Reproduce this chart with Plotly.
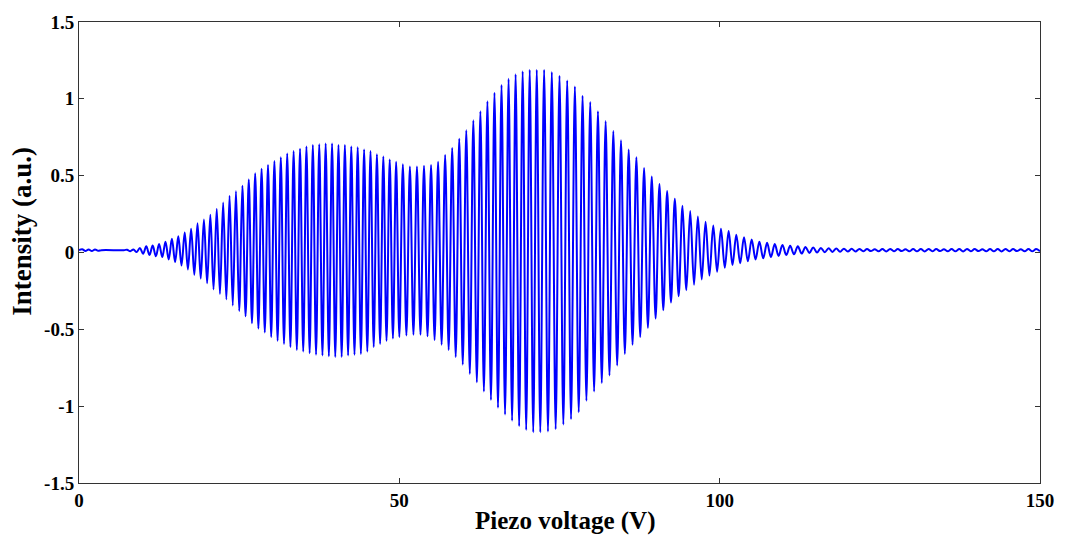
import plotly.graph_objects as go

# Flat lead-in before the fringes appear (V, a.u.)
lead_v = [0.0, 0.5, 1.0, 1.5, 2.0, 2.5, 3.0, 3.5, 7.0]
lead_i = [0.015, 0.021, 0.010, 0.020, 0.010, 0.020, 0.011, 0.015, 0.015]

# Fringe maxima: piezo voltage (V) and intensity (a.u.)
crest_v = [
    7.5, 8.5, 9.5, 10.5, 11.5, 12.5, 13.5, 14.5, 15.5, 16.5, 17.5, 18.5, 19.5, 20.5,
    21.5, 22.5, 23.5, 24.5, 25.5, 26.5, 27.5, 28.5, 29.5, 30.5, 31.5, 32.5, 33.5, 34.5,
    35.5, 36.5, 37.5, 38.5, 39.5, 40.5, 41.5, 42.5, 43.5, 44.5, 45.5, 46.5, 47.5, 48.5,
    49.5,
    50.55, 51.65, 52.75, 53.85, 54.95, 56.05, 57.15, 58.25, 59.35, 60.45, 61.55, 62.65,
    63.75, 64.85, 65.95, 67.05, 68.15, 69.25, 70.35, 71.45,
    72.6, 73.8, 75.0, 76.2, 77.4, 78.6, 79.8, 81.0, 82.2, 83.4, 84.6, 85.8, 87.0, 88.2,
    89.4, 90.6, 91.8, 93.0, 94.2, 95.4, 96.6, 97.8, 99.0, 100.2, 101.4, 102.6, 103.8,
    105.0, 106.2, 107.4, 108.6, 109.8, 111.0, 112.2, 113.4, 114.6, 115.8, 117.0, 118.2,
    119.4, 120.6, 121.8, 123.0, 124.2, 125.4, 126.6, 127.8, 129.0, 130.2, 131.4, 132.6,
    133.8, 135.0, 136.2, 137.4, 138.6, 139.8, 141.0, 142.2, 143.4, 144.6, 145.8, 147.0,
    148.2, 149.4,
]
crest_i = [
    0.018, 0.020, 0.030, 0.040, 0.045, 0.055, 0.070, 0.090, 0.105, 0.130, 0.155, 0.190,
    0.215, 0.245, 0.285, 0.325, 0.370, 0.400, 0.435, 0.475, 0.515, 0.545, 0.570, 0.595,
    0.620, 0.645, 0.660, 0.675, 0.690, 0.700, 0.705, 0.710, 0.710, 0.700, 0.700, 0.690,
    0.685, 0.670, 0.660, 0.640, 0.625, 0.605, 0.590,
    0.575, 0.560, 0.560, 0.565, 0.570, 0.590, 0.635, 0.680, 0.740, 0.795, 0.860, 0.920,
    0.985, 1.040, 1.090, 1.130, 1.160, 1.180, 1.190, 1.190,
    1.190, 1.175, 1.150, 1.120, 1.080, 1.020, 0.980, 0.920, 0.855, 0.790, 0.730, 0.670,
    0.620, 0.550, 0.495, 0.445, 0.400, 0.350, 0.305, 0.270, 0.235, 0.200, 0.175, 0.155,
    0.140, 0.115, 0.100, 0.085, 0.070, 0.063, 0.055, 0.049, 0.044, 0.040, 0.036, 0.033,
    0.030, 0.028, 0.026, 0.025, 0.024, 0.023,
    0.022, 0.021, 0.022, 0.023, 0.022, 0.021, 0.022, 0.022, 0.023, 0.022, 0.021, 0.022,
    0.022, 0.023, 0.022, 0.021, 0.022, 0.022, 0.023, 0.022, 0.021, 0.022, 0.022,
]

# Fringe minima: piezo voltage (V) and intensity (a.u.)
trough_v = [
    8.0, 9.0, 10.0, 11.0, 12.0, 13.0, 14.0, 15.0, 16.0, 17.0, 18.0, 19.0, 20.0, 21.0,
    22.0, 23.0, 24.0, 25.0, 26.0, 27.0, 28.0, 29.0, 30.0, 31.0, 32.0, 33.0, 34.0, 35.0,
    36.0, 37.0, 38.0, 39.0, 40.0, 41.0, 42.0, 43.0, 44.0, 45.0, 46.0, 47.0, 48.0, 49.0,
    50.0,
    51.1, 52.2, 53.3, 54.4, 55.5, 56.6, 57.7, 58.8, 59.9, 61.0, 62.1, 63.2, 64.3, 65.4,
    66.5, 67.6, 68.7, 69.8, 70.9, 72.0,
    73.2, 74.4, 75.6, 76.8, 78.0, 79.2, 80.4, 81.6, 82.8, 84.0, 85.2, 86.4, 87.6, 88.8,
    90.0, 91.2, 92.4, 93.6, 94.8, 96.0, 97.2, 98.4, 99.6, 100.8, 102.0, 103.2, 104.4,
    105.6, 106.8, 108.0, 109.2, 110.4, 111.6, 112.8, 114.0, 115.2, 116.4, 117.6, 118.8,
    120.0, 121.2, 122.4, 123.6, 124.8, 126.0, 127.2, 128.4, 129.6, 130.8, 132.0, 133.2,
    134.4, 135.6, 136.8, 138.0, 139.2, 140.4, 141.6, 142.8, 144.0, 145.2, 146.4, 147.6,
    148.8, 150.0,
]
trough_i = [
    0.008, 0.003, -0.008, -0.016, -0.025, -0.030, -0.045, -0.062, -0.085, -0.110, -0.145,
    -0.170, -0.200, -0.240, -0.270, -0.305, -0.345, -0.380, -0.415, -0.460, -0.495,
    -0.520, -0.550, -0.575, -0.595, -0.615, -0.635, -0.645, -0.655, -0.665, -0.670,
    -0.675, -0.680, -0.680, -0.670, -0.665, -0.660, -0.645, -0.615, -0.595, -0.575,
    -0.560, -0.550,
    -0.540, -0.535, -0.535, -0.545, -0.570, -0.600, -0.635, -0.680, -0.730, -0.790,
    -0.845, -0.905, -0.960, -1.010, -1.055, -1.095, -1.130, -1.155, -1.170, -1.170,
    -1.165, -1.150, -1.120, -1.085, -1.040, -0.965, -0.905, -0.850, -0.800, -0.735,
    -0.660, -0.600, -0.550, -0.490, -0.430, -0.375, -0.325, -0.285, -0.245, -0.210,
    -0.175, -0.150, -0.125, -0.100, -0.082, -0.070, -0.057, -0.045, -0.038, -0.030,
    -0.023, -0.017, -0.012, -0.007, -0.003, 0.000, 0.002, 0.004, 0.005, 0.006, 0.007,
    0.008, 0.009, 0.008, 0.007, 0.008, 0.009, 0.008, 0.008, 0.007, 0.008, 0.009, 0.008,
    0.008, 0.007, 0.008, 0.009, 0.008, 0.008, 0.007, 0.008, 0.009, 0.008, 0.008, 0.008,
]

x_ticks = [0, 50, 100, 150]
y_ticks = [-1.5, -1, -0.5, 0, 0.5, 1, 1.5]
y_tick_text = ["-1.5", "-1", "-0.5", "0", "0.5", "1", "1.5"]

assert len(crest_v) == len(crest_i) and len(trough_v) == len(trough_i)

# Merge lead-in, maxima and minima into one trace ordered by voltage
pts = sorted(
    list(zip(lead_v, lead_i)) + list(zip(crest_v, crest_i)) + list(zip(trough_v, trough_i))
)
volt = [p[0] for p in pts]
inten = [p[1] for p in pts]

FONT = "Liberation Serif"

fig = go.Figure(
    go.Scatter(
        x=volt,
        y=inten,
        mode="lines",
        line=dict(color="#0000FF", width=2, shape="spline", smoothing=1.0),
        hoverinfo="skip",
    )
)

axis_common = dict(
    showline=True,
    mirror="ticks",
    linecolor="#333333",
    linewidth=1,
    ticks="inside",
    ticklen=5,
    tickcolor="#333333",
    showgrid=False,
    zeroline=False,
)

fig.update_layout(
    width=1066,
    height=537,
    margin=dict(l=79, r=25, t=17, b=54),
    paper_bgcolor="white",
    plot_bgcolor="white",
    showlegend=False,
    font=dict(family=FONT, color="black"),
    xaxis=dict(
        range=[0, 150],
        tickvals=x_ticks,
        ticktext=[f"<b>{t}</b>" for t in x_ticks],
        tickfont=dict(family=FONT, size=19, color="black"),
        **axis_common,
    ),
    yaxis=dict(
        range=[-1.5, 1.5],
        tickvals=y_ticks,
        ticktext=[f"<b>{t}</b>" for t in y_tick_text],
        tickfont=dict(family=FONT, size=19, color="black"),
        **axis_common,
    ),
    annotations=[
        dict(
            text="<b>Piezo voltage (V)</b>",
            xref="paper", yref="paper",
            x=0.506, y=0, xanchor="center", yanchor="middle",
            yshift=-38,
            showarrow=False,
            font=dict(family=FONT, size=25, color="black"),
        ),
        dict(
            text="<b>Intensity (a.u.)</b>",
            xref="paper", yref="paper",
            x=0, y=0.545, xanchor="center", yanchor="middle",
            xshift=-57,
            textangle=-90,
            showarrow=False,
            font=dict(family=FONT, size=27, color="black"),
        ),
    ],
)

fig.write_html("out.html")
